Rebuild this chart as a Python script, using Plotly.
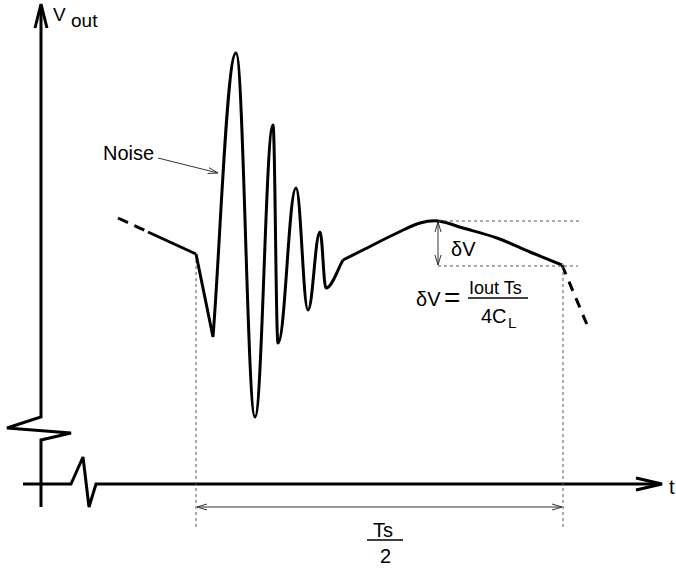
import math
import plotly.graph_objects as go

W, H = 676, 570
FONT = "Liberation Sans, Arial, Helvetica, sans-serif"

# ---------------- schematic data (pixel-space units of the drawing) ----------------
# Vertical (V_out) axis with break symbol
v_axis_x = [41, 41, 7, 71, 41, 41]
v_axis_y = [6, 417, 428, 433, 440, 507]
# Horizontal (t) axis with the small glitch
t_axis_x = [23, 71, 83, 89, 96, 659]
t_axis_y = [484, 484, 457, 507, 484, 484]
# Axis arrow tips
v_tip = (41, 4)
t_tip = (662, 484)

# Waveform: dashed lead-in, solid lead-in
lead_dash_x = [118, 146]
lead_dash_y = [218, 231]
lead_solid_x = [148, 196]
lead_solid_y = [232, 254]
# Noise burst: start corner followed by alternating extrema
noise_start = (196, 254)
noise_ext_x = [213, 236, 255, 273, 278, 296, 308, 320, 326]
noise_ext_y = [337, 53, 417, 125, 343, 188, 310, 232, 288]
knee = (343, 260)
# Recovery arc up to the top and the droop
arc_x = [343, 363, 397, 420, 438, 463, 497, 530, 562]
arc_y = [260, 250, 233, 223, 221, 228, 238, 252, 265]
# Dashed tail
tail_x = [562, 588]
tail_y = [265, 327]

# Dotted guide lines (x0, y0, x1, y1)
guides = [
    (196, 254, 196, 528),
    (563, 266, 563, 528),
    (438, 221, 582, 221),
    (438, 266, 578, 266),
]

# Dimension / pointer arrows (x0, y0, x1, y1, both_ends)
dims = [
    (197, 507, 562, 507, True),
    (438, 222, 438, 265, True),
    (158, 158, 218, 173, False),
]

fig = go.Figure()


def chevron(tip, towards, length, half):
    tx, ty = tip
    fx, fy = towards
    d = math.hypot(fx - tx, fy - ty)
    ux, uy = (fx - tx) / d, (fy - ty) / d
    nx, ny = -uy, ux
    xs = [tx + length * ux + half * nx, tx, tx + length * ux - half * nx, None]
    ys = [ty + length * uy + half * ny, ty, ty + length * uy - half * ny, None]
    return xs, ys


def line(xs, ys, width=3, color="black", dash="solid", shape="linear"):
    fig.add_trace(go.Scatter(x=xs, y=ys, mode="lines", hoverinfo="skip",
                             line=dict(color=color, width=width, dash=dash, shape=shape),
                             showlegend=False, cliponaxis=False))


# axes
line(v_axis_x, v_axis_y, width=3)
line(t_axis_x, t_axis_y, width=3)
hx, hy = chevron(v_tip, (v_tip[0], v_tip[1] + 10), 24, 6)
line(hx, hy, width=3)
hx, hy = chevron(t_tip, (t_tip[0] - 10, t_tip[1]), 26, 6)
line(hx, hy, width=3)

# waveform lead-in
line(lead_dash_x, lead_dash_y, width=3, dash="11px,7px")
line(lead_solid_x, lead_solid_y, width=3)

# noise burst as cubic Bezier path built from the extrema
k = 0.40
pts = list(zip(noise_ext_x, noise_ext_y))
path = f"M {noise_start[0]},{noise_start[1]} L {pts[0][0]},{pts[0][1]}"
for i in range(len(pts) - 1):
    (x0, y0), (x1, y1) = pts[i], pts[i + 1]
    dx = x1 - x0
    if i == 0:
        c1 = (x0 + 0.3 * dx, y0 + 0.3 * (y1 - y0))
    else:
        c1 = (x0 + k * dx, y0)
    c2 = (x1 - k * dx, y1)
    path += f" C {c1[0]:.2f},{c1[1]:.2f} {c2[0]:.2f},{c2[1]:.2f} {x1},{y1}"
(x0, y0) = pts[-1]
dx = knee[0] - x0
path += (f" C {x0 + 0.35 * dx:.2f},{y0} {knee[0] - 0.3 * dx:.2f},{knee[1] + 0.3 * (y0 - knee[1]):.2f}"
         f" {knee[0]},{knee[1]}")
fig.add_shape(type="path", path=path, xref="x", yref="y",
              line=dict(color="black", width=3), layer="above")

# recovery arc and droop
line(arc_x, arc_y, width=3, shape="spline")
line(tail_x, tail_y, width=3, dash="10px,8px")

# dotted guides
for (x0, y0, x1, y1) in guides:
    line([x0, x1], [y0, y1], width=1, color="#555555", dash="dot")

# dimension arrows
for (x0, y0, x1, y1, both) in dims:
    line([x0, x1], [y0, y1], width=1, color="#333333")
    hx, hy = chevron((x1, y1), (x0, y0), 10, 3)
    line(hx, hy, width=1, color="#333333")
    if both:
        hx, hy = chevron((x0, y0), (x1, y1), 10, 3)
        line(hx, hy, width=1, color="#333333")

# fraction bars
line([468, 528], [298, 298], width=1.5)
line([367, 403], [540, 540], width=1.5)

# ---------------- texts ----------------
texts = [
    ("V", 59, 14, 19, "center"),
    ("out", 69, 20, 19, "left"),
    ("t", 667, 487, 20, "left"),
    ("Noise", 128, 153, 20, "center"),
    ("δV", 463, 249, 20, "center"),
    ("δV", 428, 299, 20, "center"),
    ("=", 452, 297, 28, "center"),
    ("Iout Ts", 495, 288, 18, "center"),
    ("4C", 494, 316, 20, "center"),
    ("L", 512, 322, 15, "center"),
    ("Ts", 383, 530, 20, "center"),
    ("2", 385, 556, 20, "center"),
]
for (txt, x, y, size, anchor) in texts:
    fig.add_annotation(x=x, y=y, xref="x", yref="y", text=txt, showarrow=False,
                       xanchor=anchor, yanchor="middle",
                       font=dict(family=FONT, size=size, color="black"))

fig.update_layout(
    width=W, height=H,
    margin=dict(l=0, r=0, t=0, b=0),
    paper_bgcolor="white", plot_bgcolor="white",
    xaxis=dict(range=[0, W], visible=False, fixedrange=True),
    yaxis=dict(range=[H, 0], visible=False, fixedrange=True),
)

# remove the browser's default page margin so the figure sits at the window origin
fig.write_html("out.html",
               config={"displayModeBar": False, "staticPlot": True},
               post_script="document.body.style.margin='0px';"
                           "document.body.style.overflow='hidden';")
